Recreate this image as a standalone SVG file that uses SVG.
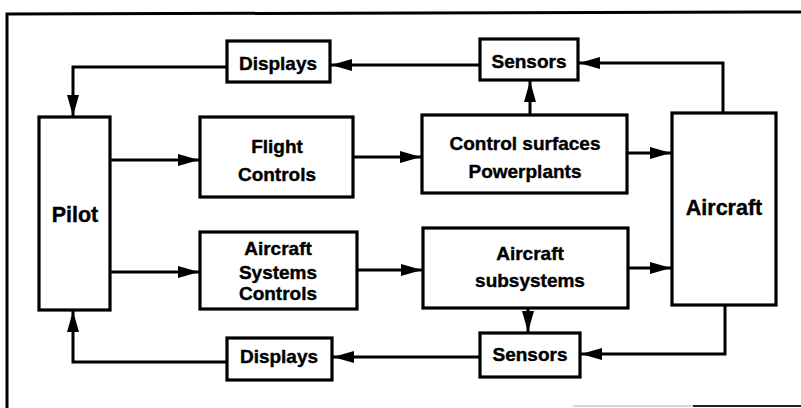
<svg xmlns="http://www.w3.org/2000/svg" width="801" height="408" viewBox="0 0 801 408">
<style>
.box{fill:#fff;stroke:#000;stroke-width:3.2}
.ln{fill:none;stroke:#000;stroke-width:3;marker-end:url(#ah)}
.frame{fill:none;stroke:#000;stroke-width:3}
text{font-family:"Liberation Sans",Arial,sans-serif;font-weight:bold;font-size:19px;text-anchor:middle;fill:#000;stroke:#000;stroke-width:0.4}
.big{font-size:21.5px}
</style>
<defs>
<marker id="ah" markerUnits="userSpaceOnUse" markerWidth="22" markerHeight="14" viewBox="0 0 22 14" refX="21" refY="7" orient="auto">
<path d="M0,1 L21,7 L0,13 Z" fill="#000"/>
</marker>
</defs>
<rect width="801" height="408" fill="#fff"/>
<g id="frame">
<path class="frame" d="M7,408 L7,14 L801,12"/>
<path d="M573,406 L693,406" stroke="#c8c8c8" stroke-width="1.5" fill="none"/>
<path d="M693,406 L801,406" stroke="#222" stroke-width="2" fill="none"/>
</g>
<g id="connectors">
<path class="ln" d="M480,65 L331,65"/>
<path class="ln" d="M227,67 L73,67 L73,116"/>
<path class="ln" d="M723,113 L723,63 L579,63"/>
<path class="ln" d="M530,115 L530,81"/>
<path class="ln" d="M110,160 L199,160"/>
<path class="ln" d="M353,157 L421,157"/>
<path class="ln" d="M627,153 L671,153"/>
<path class="ln" d="M110,272 L199,272"/>
<path class="ln" d="M357,270 L422,270"/>
<path class="ln" d="M628,268 L671,268"/>
<path class="ln" d="M528,308 L528,332"/>
<path class="ln" d="M725,305 L725,354 L581,354"/>
<path class="ln" d="M480,357 L333,357"/>
<path class="ln" d="M227,362 L73,362 L73,311"/>
</g>
<g id="pilot">
<rect class="box" x="39" y="117" width="71" height="193"/>
<text class="big" x="75" y="222">Pilot</text>
</g>
<g id="aircraft">
<rect class="box" x="672" y="113" width="104" height="192"/>
<text class="big" x="724" y="215">Aircraft</text>
</g>
<g id="displays-top">
<rect class="box" x="227" y="41" width="103" height="41"/>
<text x="278" y="70">Displays</text>
</g>
<g id="sensors-top">
<rect class="box" x="480" y="39" width="98" height="41"/>
<text x="529" y="68">Sensors</text>
</g>
<g id="flight-controls">
<rect class="box" x="200" y="117" width="153" height="80"/>
<text x="277" y="153">Flight</text>
<text x="277" y="181">Controls</text>
</g>
<g id="control-surfaces">
<rect class="box" x="422" y="115" width="205" height="78"/>
<text x="525" y="150">Control surfaces</text>
<text x="525" y="178">Powerplants</text>
</g>
<g id="aircraft-systems-controls">
<rect class="box" x="200" y="232" width="157" height="77"/>
<text x="278" y="255">Aircraft</text>
<text x="278" y="279">Systems</text>
<text x="278" y="300">Controls</text>
</g>
<g id="aircraft-subsystems">
<rect class="box" x="423" y="228" width="205" height="80"/>
<text x="530" y="260">Aircraft</text>
<text x="530" y="287">subsystems</text>
</g>
<g id="displays-bottom">
<rect class="box" x="227" y="338" width="105" height="42"/>
<text x="279" y="363">Displays</text>
</g>
<g id="sensors-bottom">
<rect class="box" x="480" y="333" width="100" height="44"/>
<text x="530" y="361">Sensors</text>
</g>
</svg>
